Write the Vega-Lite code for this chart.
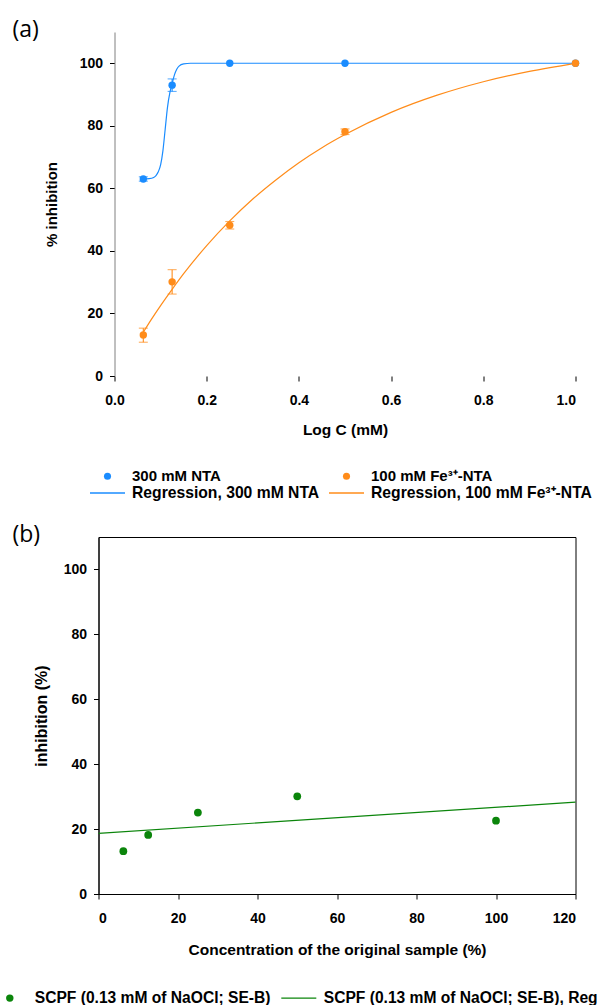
{
  "$schema": "https://vega.github.io/schema/vega-lite/v6.json",
  "padding": {"left": 1.5, "top": 19, "right": 0, "bottom": 0},
  "spacing": 21,
  "columns": 1,
  "align": "none",
  "config": {
    "font": "Liberation Sans",
    "view": {"stroke": "#000000", "strokeWidth": 1},
    "axis": {
      "grid": false,
      "domainColor": "#000000",
      "tickColor": "#000000",
      "tickSize": 5,
      "labelFont": "Liberation Sans",
      "labelFontWeight": "bold",
      "labelColor": "#000000",
      "titleFont": "Liberation Sans",
      "titleFontWeight": "bold",
      "titleColor": "#000000"
    }
  },
  "datasets": {
    "ptsA": [
      {"series": "300 mM NTA", "x": 0.0625, "y": 63.0},
      {"series": "300 mM NTA", "x": 0.125, "y": 93.0},
      {"series": "300 mM NTA", "x": 0.25, "y": 100.0},
      {"series": "300 mM NTA", "x": 0.5, "y": 100.0},
      {"series": "300 mM NTA", "x": 1.0, "y": 100.0},
      {"series": "100 mM Fe³⁺-NTA", "x": 0.0625, "y": 13.1},
      {"series": "100 mM Fe³⁺-NTA", "x": 0.125, "y": 30.1},
      {"series": "100 mM Fe³⁺-NTA", "x": 0.25, "y": 48.2},
      {"series": "100 mM Fe³⁺-NTA", "x": 0.5, "y": 78.1},
      {"series": "100 mM Fe³⁺-NTA", "x": 1.0, "y": 100.0}
    ],
    "errA": [
      {"series": "300 mM NTA", "x": 0.0625, "lo": 62.3, "hi": 63.7},
      {"series": "300 mM NTA", "x": 0.125, "lo": 91.0, "hi": 95.0},
      {"series": "100 mM Fe³⁺-NTA", "x": 0.0625, "lo": 10.8, "hi": 15.3},
      {"series": "100 mM Fe³⁺-NTA", "x": 0.125, "lo": 26.2, "hi": 34.0},
      {"series": "100 mM Fe³⁺-NTA", "x": 0.25, "lo": 47.0, "hi": 49.4},
      {"series": "100 mM Fe³⁺-NTA", "x": 0.5, "lo": 77.2, "hi": 79.0}
    ],
    "curvesA": [
      {"series": "Regression, 300 mM NTA", "x": 0.0625, "y": 63.0},
      {"series": "Regression, 300 mM NTA", "x": 0.075, "y": 63.1},
      {"series": "Regression, 300 mM NTA", "x": 0.085, "y": 63.5},
      {"series": "Regression, 300 mM NTA", "x": 0.09, "y": 64.1},
      {"series": "Regression, 300 mM NTA", "x": 0.095, "y": 65.3},
      {"series": "Regression, 300 mM NTA", "x": 0.1, "y": 67.5},
      {"series": "Regression, 300 mM NTA", "x": 0.105, "y": 72.0},
      {"series": "Regression, 300 mM NTA", "x": 0.11, "y": 79.0},
      {"series": "Regression, 300 mM NTA", "x": 0.115, "y": 86.0},
      {"series": "Regression, 300 mM NTA", "x": 0.12, "y": 90.5},
      {"series": "Regression, 300 mM NTA", "x": 0.125, "y": 93.5},
      {"series": "Regression, 300 mM NTA", "x": 0.13, "y": 96.3},
      {"series": "Regression, 300 mM NTA", "x": 0.135, "y": 98.1},
      {"series": "Regression, 300 mM NTA", "x": 0.14, "y": 99.1},
      {"series": "Regression, 300 mM NTA", "x": 0.15, "y": 99.8},
      {"series": "Regression, 300 mM NTA", "x": 0.165, "y": 100.0},
      {"series": "Regression, 300 mM NTA", "x": 0.5, "y": 100.0},
      {"series": "Regression, 300 mM NTA", "x": 1.0, "y": 100.0},
      {"series": "Regression, 100 mM Fe³⁺-NTA", "x": 0.0625, "y": 14.0},
      {"series": "Regression, 100 mM Fe³⁺-NTA", "x": 0.08, "y": 18.1},
      {"series": "Regression, 100 mM Fe³⁺-NTA", "x": 0.1, "y": 22.5},
      {"series": "Regression, 100 mM Fe³⁺-NTA", "x": 0.125, "y": 27.7},
      {"series": "Regression, 100 mM Fe³⁺-NTA", "x": 0.15, "y": 32.7},
      {"series": "Regression, 100 mM Fe³⁺-NTA", "x": 0.2, "y": 41.7},
      {"series": "Regression, 100 mM Fe³⁺-NTA", "x": 0.25, "y": 49.6},
      {"series": "Regression, 100 mM Fe³⁺-NTA", "x": 0.3, "y": 56.6},
      {"series": "Regression, 100 mM Fe³⁺-NTA", "x": 0.35, "y": 62.7},
      {"series": "Regression, 100 mM Fe³⁺-NTA", "x": 0.4, "y": 68.2},
      {"series": "Regression, 100 mM Fe³⁺-NTA", "x": 0.45, "y": 73.0},
      {"series": "Regression, 100 mM Fe³⁺-NTA", "x": 0.5, "y": 77.2},
      {"series": "Regression, 100 mM Fe³⁺-NTA", "x": 0.6, "y": 84.3},
      {"series": "Regression, 100 mM Fe³⁺-NTA", "x": 0.7, "y": 89.8},
      {"series": "Regression, 100 mM Fe³⁺-NTA", "x": 0.8, "y": 94.1},
      {"series": "Regression, 100 mM Fe³⁺-NTA", "x": 0.9, "y": 97.4},
      {"series": "Regression, 100 mM Fe³⁺-NTA", "x": 1.0, "y": 100.0}
    ],
    "ptsB": [
      {"series": "SCPF (0.13 mM of NaOCl; SE-B)", "x": 6.25, "y": 13.2},
      {"series": "SCPF (0.13 mM of NaOCl; SE-B)", "x": 12.5, "y": 18.2},
      {"series": "SCPF (0.13 mM of NaOCl; SE-B)", "x": 25, "y": 25.1},
      {"series": "SCPF (0.13 mM of NaOCl; SE-B)", "x": 50, "y": 30.1},
      {"series": "SCPF (0.13 mM of NaOCl; SE-B)", "x": 100, "y": 22.6}
    ],
    "lineB": [
      {"series": "SCPF (0.13 mM of NaOCl; SE-B), Regression", "x": 0, "y": 18.7},
      {"series": "SCPF (0.13 mM of NaOCl; SE-B), Regression", "x": 120, "y": 28.3}
    ]
  },
  "resolve": {"scale": {"color": "independent"}, "legend": {"color": "independent"}},
  "concat": [
    {
      "width": 477,
      "height": 344,
      "view": {"stroke": null},
      "title": {"text": "(a)", "anchor": "start", "frame": "group", "offset": -10, "dx": -86, "font": "Open Sans", "fontSize": 23, "fontWeight": "normal", "color": "#000000"},
      "layer": [
        {
          "mark": {"type": "rule", "color": "#808080", "strokeWidth": 1},
          "encoding": {"x": {"datum": 0, "type": "quantitative"}, "x2": {"datum": 1}, "y": {"datum": 110, "type": "quantitative"}}
        },
        {
          "mark": {"type": "rule", "color": "#000000", "strokeWidth": 1},
          "encoding": {"x": {"datum": 0, "type": "quantitative"}, "x2": {"datum": 1}, "y": {"datum": 0, "type": "quantitative"}}
        },
        {
          "mark": {"type": "rule", "color": "#000000", "strokeWidth": 1},
          "encoding": {"x": {"datum": 1, "type": "quantitative"}, "y": {"datum": 0, "type": "quantitative"}, "y2": {"datum": 110}}
        },
        {
          "data": {"name": "curvesA"},
          "mark": {"type": "line", "strokeWidth": 1.2, "interpolate": "monotone"},
          "encoding": {
            "x": {"field": "x", "type": "quantitative", "scale": {"domain": [-0.03471, 1], "nice": false, "zero": false}, "axis": {"title": "Log C (mM)", "values": [0, 0.2, 0.4, 0.6, 0.8, 1.0], "format": ".1f", "domain": false, "labelFontSize": 14, "labelPadding": 12, "titleFontSize": 15.5, "titlePadding": 15, "titleX": 246.5}},
            "y": {"field": "y", "type": "quantitative", "scale": {"domain": [0, 110], "nice": false}, "axis": {"title": "% inhibition", "values": [0, 20, 40, 60, 80, 100], "offset": -16, "labelFontSize": 14, "labelPadding": 7, "titleFontSize": 15, "titlePadding": 20, "domainColor": "#808080"}},
            "color": {
              "field": "series", "type": "nominal",
              "scale": {"domain": ["300 mM NTA", "100 mM Fe³⁺-NTA", "Regression, 300 mM NTA", "Regression, 100 mM Fe³⁺-NTA"], "range": ["#1a8cff", "#ff8c1a", "#1a8cff", "#ff8c1a"]},
              "legend": {
                "orient": "none", "legendX": 1.5, "legendY": 436.5, "columns": 2, "direction": "horizontal", "title": null,
                "symbolSize": 1225, "labelOffset": 17, "columnPadding": 6, "rowPadding": 0,
                "labelFontWeight": "bold", "labelColor": "#000000", "labelLimit": 400, "labelFontSize": 15,
                "encode": {
                  "symbols": {"update": {
                    "shape": {"signal": "indexof(''+datum.value,'Regression')>=0 ? 'stroke' : 'circle'"},
                    "size": {"signal": "indexof(''+datum.value,'Regression')>=0 ? 1225 : 50"},
                    "fill": {"signal": "indexof(''+datum.value,'Regression')>=0 ? 'transparent' : (indexof(''+datum.value,'300')>=0 ? '#1a8cff' : '#ff8c1a')"},
                    "stroke": {"signal": "indexof(''+datum.value,'300')>=0 ? '#1a8cff' : '#ff8c1a'"},
                    "strokeWidth": {"signal": "indexof(''+datum.value,'Regression')>=0 ? 1.3 : 0"},
                    "opacity": {"value": 1}
                  }},
                  "labels": {"update": {"fontSize": {"signal": "indexof(''+datum.value,'Regression')>=0 ? 15.7 : 15"}}}
                }
              }
            }
          }
        },
        {
          "data": {"name": "errA"},
          "mark": {"type": "rule", "strokeWidth": 1.1},
          "encoding": {
            "x": {"field": "x", "type": "quantitative"},
            "y": {"field": "lo", "type": "quantitative"},
            "y2": {"field": "hi"},
            "color": {"field": "series", "type": "nominal"}
          }
        },
        {
          "data": {"name": "errA"},
          "mark": {"type": "tick", "orient": "horizontal", "size": 9, "thickness": 1.1},
          "encoding": {
            "x": {"field": "x", "type": "quantitative"},
            "y": {"field": "lo", "type": "quantitative"},
            "color": {"field": "series", "type": "nominal"}
          }
        },
        {
          "data": {"name": "errA"},
          "mark": {"type": "tick", "orient": "horizontal", "size": 9, "thickness": 1.1},
          "encoding": {
            "x": {"field": "x", "type": "quantitative"},
            "y": {"field": "hi", "type": "quantitative"},
            "color": {"field": "series", "type": "nominal"}
          }
        },
        {
          "data": {"name": "ptsA"},
          "mark": {"type": "point", "filled": true, "size": 55, "opacity": 1},
          "encoding": {
            "x": {"field": "x", "type": "quantitative"},
            "y": {"field": "y", "type": "quantitative"},
            "color": {"field": "series", "type": "nominal"}
          }
        }
      ]
    },
    {
      "width": 477,
      "height": 357,
      "title": {"text": "(b)", "anchor": "start", "frame": "group", "offset": -10, "dx": -86, "font": "Open Sans", "fontSize": 23, "fontWeight": "normal", "color": "#000000"},
      "layer": [
        {
          "data": {"name": "lineB"},
          "mark": {"type": "line", "strokeWidth": 1.2},
          "encoding": {
            "x": {"field": "x", "type": "quantitative", "scale": {"domain": [0, 120], "nice": false}, "axis": {"title": "Concentration of the original sample (%)", "values": [0, 20, 40, 60, 80, 100, 120], "labelFontSize": 14, "labelPadding": 12, "titleFontSize": 15.5, "titlePadding": 17}},
            "y": {"field": "y", "type": "quantitative", "scale": {"domain": [0, 110], "nice": false}, "axis": {"title": "inhibition (%)", "values": [0, 20, 40, 60, 80, 100], "labelFontSize": 14, "labelPadding": 7, "titleFontSize": 16, "titlePadding": 14}},
            "color": {
              "field": "series", "type": "nominal",
              "scale": {"domain": ["SCPF (0.13 mM of NaOCl; SE-B)", "SCPF (0.13 mM of NaOCl; SE-B), Regression"], "range": ["#0b850b", "#0b850b"]},
              "legend": {
                "orient": "none", "legendX": -96.5, "legendY": 453, "columns": 2, "direction": "horizontal", "title": null,
                "symbolSize": 1225, "labelOffset": 17.2, "columnPadding": 7,
                "labelFontWeight": "bold", "labelColor": "#000000", "labelFontSize": 15.6, "labelLimit": 500,
                "encode": {
                  "symbols": {"update": {
                    "shape": {"signal": "indexof(''+datum.value,'Regression')>=0 ? 'stroke' : 'circle'"},
                    "size": {"signal": "indexof(''+datum.value,'Regression')>=0 ? 1225 : 55"},
                    "fill": {"signal": "indexof(''+datum.value,'Regression')>=0 ? 'transparent' : '#0b850b'"},
                    "stroke": {"value": "#0b850b"},
                    "strokeWidth": {"signal": "indexof(''+datum.value,'Regression')>=0 ? 1.3 : 0"},
                    "opacity": {"value": 1}
                  }}
                }
              }
            }
          }
        },
        {
          "data": {"name": "ptsB"},
          "mark": {"type": "point", "filled": true, "size": 60, "opacity": 1},
          "encoding": {
            "x": {"field": "x", "type": "quantitative"},
            "y": {"field": "y", "type": "quantitative"},
            "color": {"field": "series", "type": "nominal"}
          }
        }
      ]
    }
  ]
}
